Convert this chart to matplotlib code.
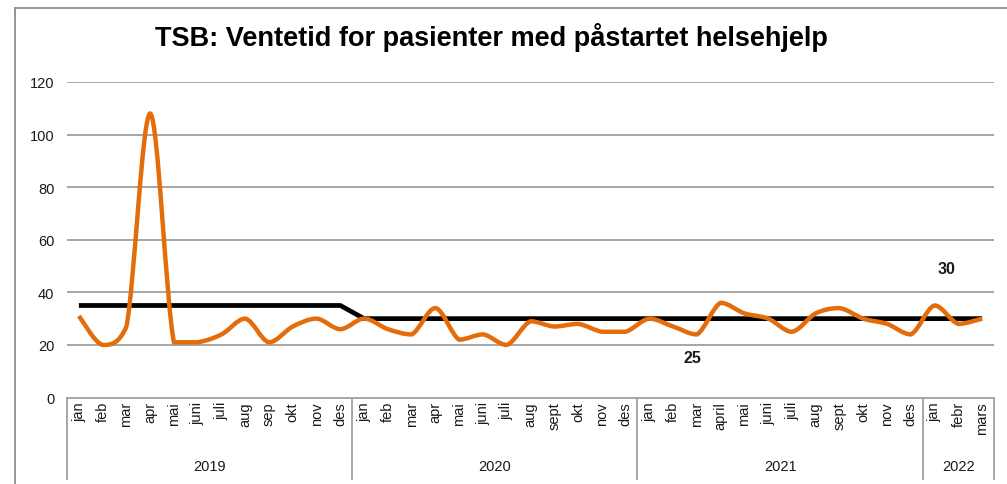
import numpy as np
import matplotlib
matplotlib.use('Agg')
import matplotlib.pyplot as plt
from matplotlib.path import Path
from matplotlib.patches import PathPatch
from matplotlib.lines import Line2D
import matplotlib.transforms as mtransforms

# Data
years = ['2019', '2020', '2021', '2022']
months_2019 = ['jan', 'feb', 'mar', 'apr', 'mai', 'juni', 'juli', 'aug', 'sep', 'okt', 'nov', 'des']
months_2020 = ['jan', 'feb', 'mar', 'apr', 'mai', 'juni', 'juli', 'aug', 'sept', 'okt', 'nov', 'des']
months_2021 = ['jan', 'feb', 'mar', 'april', 'mai', 'juni', 'juli', 'aug', 'sept', 'okt', 'nov', 'des']
months_2022 = ['jan', 'febr', 'mars']

wait_2019 = [31, 20, 27, 108, 21, 21, 24, 30, 21, 27, 30, 26]
wait_2020 = [30, 26, 24, 34, 22, 24, 20, 29, 27, 28, 25, 25]
wait_2021 = [30, 27, 24, 36, 32, 30, 25, 32, 34, 30, 28, 24]
wait_2022 = [35, 28, 30]

target_2019 = [35] * 12
target_rest = [30] * 27

label_30 = '30'
label_25 = '25'

GRID = '#a6a6a6'
ORANGE = '#E46C0A'
TEXT = '#1a1a1a'


def smooth_path(x, y, k=1 / 6):
    """Bezier path through the points; control points kept inside each segment's y range."""
    pts = np.column_stack([x, y]).astype(float)
    n = len(pts)
    verts = [pts[0]]
    codes = [Path.MOVETO]
    for i in range(n - 1):
        p0 = pts[i - 1] if i > 0 else pts[i]
        p1 = pts[i]
        p2 = pts[i + 1]
        p3 = pts[i + 2] if i + 2 < n else pts[i + 1]
        c1 = p1 + (p2 - p0) * k
        c2 = p2 - (p3 - p1) * k
        lo, hi = min(p1[1], p2[1]), max(p1[1], p2[1])
        c1[1] = np.clip(c1[1], lo, hi)
        c2[1] = np.clip(c2[1], lo, hi)
        verts += [c1, c2, p2]
        codes += [Path.CURVE4] * 3
    return Path(verts, codes)


months = months_2019 + months_2020 + months_2021 + months_2022
wait = wait_2019 + wait_2020 + wait_2021 + wait_2022
target = target_2019 + target_rest
x = np.arange(len(months))

W, H = 1007, 485
fig = plt.figure(figsize=(W / 100, H / 100), dpi=100)
plt.rcParams['font.family'] = ['Liberation Sans', 'DejaVu Sans']

left, right, y0, y120 = 67, 994, 398.5, 83
ax = fig.add_axes([left / W, (H - y0) / H, (right - left) / W, (y0 - y120) / H])
ax.set_xlim(-0.5, len(months) - 0.5)
ax.set_ylim(0, 120)
for s in ax.spines.values():
    s.set_visible(False)
ax.set_yticks(range(0, 121, 20))
ax.tick_params(axis='y', length=0, pad=9, labelsize=10.5, labelcolor=TEXT)
ax.set_xticks([])
for v in range(20, 121, 20):
    ax.axhline(v, color=GRID, lw=1.4, zorder=1)

# target line
ax.plot(x, target, color='black', lw=3.4, zorder=3, solid_capstyle='butt', clip_on=False)
# smoothed waiting time
ax.add_patch(PathPatch(smooth_path(x, wait), fill=False, edgecolor=ORANGE, lw=3.2,
                       zorder=4, capstyle='butt', clip_on=False))

ax.text(36.5, 49, label_30, ha='center', va='center', fontsize=11.5, fontweight='bold', color=TEXT)
ax.text(25.8, 15.4, label_25, ha='center', va='center', fontsize=11.5, fontweight='bold', color=TEXT)

# category table under the axis
trans = mtransforms.blended_transform_factory(ax.transData, fig.transFigure)
ax.plot([-0.5, len(months) - 0.5], [0, 0], color=GRID, lw=1.4, clip_on=False, zorder=2)
ybot = (H - 480) / H
group_sizes = [len(months_2019), len(months_2020), len(months_2021), len(months_2022)]
edges = np.concatenate([[0], np.cumsum(group_sizes)]) - 0.5
for e in edges:
    ax.add_line(Line2D([e, e], [(H - y0) / H, ybot], color=GRID, lw=1.4,
                       transform=trans, clip_on=False))
for i, m in enumerate(months):
    ax.text(i, (H - 402) / H, m, rotation=90, ha='center', va='top', fontsize=10.5,
            color=TEXT, transform=trans)
for yr, a, b in zip(years, edges[:-1], edges[1:]):
    ax.text((a + b) / 2, (H - 467) / H, yr, ha='center', va='center', fontsize=10.5,
            color=TEXT, transform=trans)

# title
fig.text(491 / W, (H - 38) / H, 'TSB: Ventetid for pasienter med påstartet helsehjelp',
         ha='center', va='center', fontsize=19.5, fontweight='bold', color='black')

# outer frame (cropped at right and bottom)
fig.add_artist(Line2D([15 / W, 15 / W], [0, (H - 9) / H], color='#8c8c8c', lw=1.3,
                      transform=fig.transFigure))
fig.add_artist(Line2D([15 / W, 1], [(H - 9) / H, (H - 9) / H], color='#8c8c8c', lw=1.3,
                      transform=fig.transFigure))

fig.savefig('out.png', dpi=100)
